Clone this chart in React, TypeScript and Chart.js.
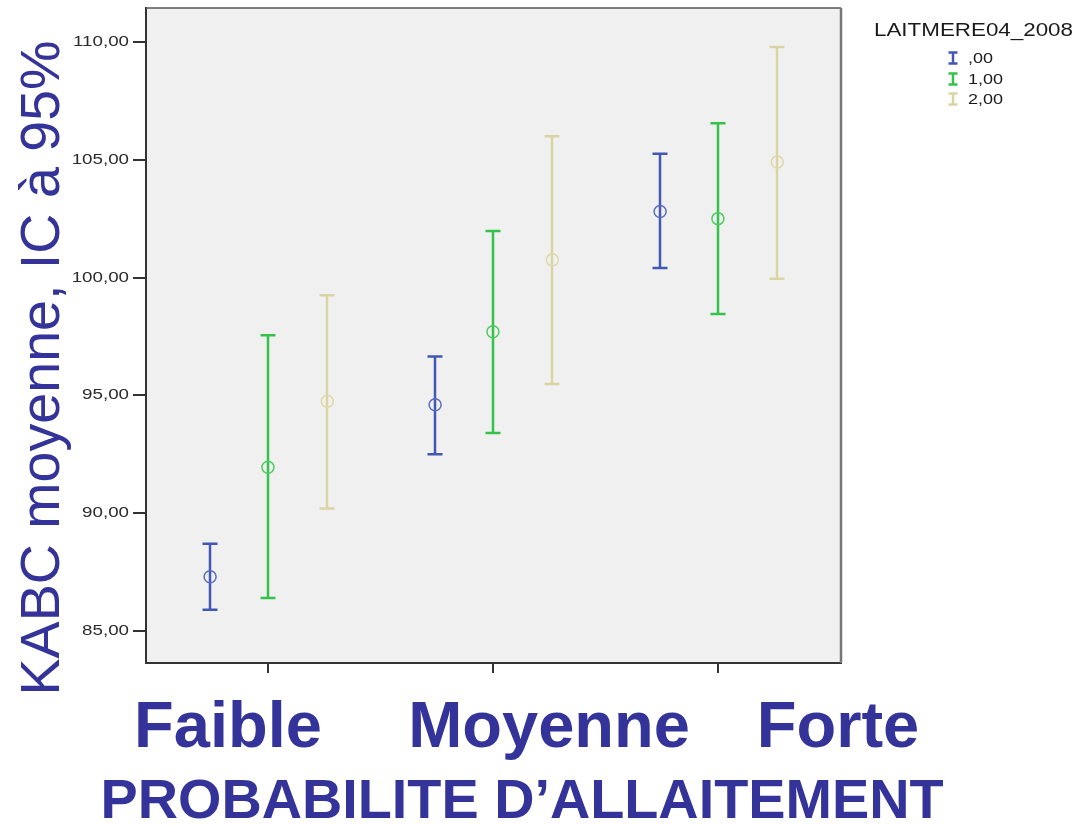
import { useEffect, useRef } from 'react';
import { Chart, registerables } from 'chart.js';

Chart.register(...registerables);

// ---- data ----
const categories = ['Faible', 'Moyenne', 'Forte'];
const seriesLabels = [',00', '1,00', '2,00'];
const legendTitle = 'LAITMERE04_2008';
const yTitle = 'KABC moyenne, IC à 95%';
const xTitle = 'PROBABILITE D\u2019ALLAITEMENT';
const yTickValues = [85, 90, 95, 100, 105, 110];

const mean0 = [87.3, 94.6, 102.8];
const low0 = [85.9, 92.5, 100.4];
const high0 = [88.7, 96.65, 105.25];

const mean1 = [91.95, 97.7, 102.5];
const low1 = [86.4, 93.4, 98.45];
const high1 = [97.55, 101.98, 106.55];

const mean2 = [94.75, 100.75, 104.9];
const low2 = [90.2, 95.48, 99.95];
const high2 = [99.25, 106.0, 109.78];

const means = [mean0, mean1, mean2];
const lows = [low0, low1, low2];
const highs = [high0, high1, high2];

// ---- styling / layout ----
const colors = ['#4257b2', '#35c24a', '#d9d5a2'];
const pointColors = ['#5a6cc0', '#4ccb5e', '#ddd9a8'];
const offsets = [-0.257, 0, 0.264];
const textBlue = '#333399';
const FONT = '"Liberation Sans", Arial, sans-serif';
const W = 1082;
const H = 825;

const customPlugin = {
  id: 'spssLike',
  beforeDraw(chart: any) {
    const { ctx, chartArea: a } = chart;
    ctx.save();
    ctx.fillStyle = '#f0f0f0';
    ctx.fillRect(a.left, a.top, a.right - a.left, a.bottom - a.top);
    ctx.restore();
  },
  beforeDatasetsDraw(chart: any) {
    const { ctx } = chart;
    const xs = chart.scales.x;
    const ys = chart.scales.y;
    ctx.save();
    for (let s = 0; s < 3; s++) {
      ctx.strokeStyle = colors[s];
      ctx.lineWidth = 2.5;
      for (let i = 0; i < categories.length; i++) {
        const px = Math.round(xs.getPixelForValue(i + offsets[s]));
        const pl = ys.getPixelForValue(lows[s][i]);
        const ph = ys.getPixelForValue(highs[s][i]);
        ctx.beginPath();
        ctx.moveTo(px, ph);
        ctx.lineTo(px, pl);
        ctx.moveTo(px - 7.5, ph);
        ctx.lineTo(px + 7.5, ph);
        ctx.moveTo(px - 7.5, pl);
        ctx.lineTo(px + 7.5, pl);
        ctx.stroke();
      }
    }
    ctx.restore();
  },
  afterDraw(chart: any) {
    const { ctx, chartArea: a } = chart;
    const ys = chart.scales.y;
    ctx.save();
    // frame top/right
    ctx.strokeStyle = '#555';
    ctx.lineWidth = 1.5;
    ctx.beginPath();
    ctx.moveTo(a.left, a.top);
    ctx.lineTo(a.right, a.top);
    ctx.stroke();
    ctx.strokeStyle = '#777';
    ctx.lineWidth = 2.5;
    ctx.beginPath();
    ctx.moveTo(a.right, a.top);
    ctx.lineTo(a.right, a.bottom);
    ctx.stroke();

    // y tick labels (horizontally stretched like original)
    ctx.fillStyle = '#2a2a2a';
    ctx.font = `15px ${FONT}`;
    ctx.textAlign = 'right';
    ctx.textBaseline = 'middle';
    for (const v of yTickValues) {
      const py = ys.getPixelForValue(v);
      const label = v.toFixed(2).replace('.', ',');
      ctx.save();
      ctx.translate(129, py);
      ctx.scale(1.25, 1);
      ctx.fillText(label, 0, 0);
      ctx.restore();
    }

    // y title
    ctx.save();
    ctx.translate(59, 368);
    ctx.rotate(-Math.PI / 2);
    ctx.fillStyle = textBlue;
    ctx.font = `56px ${FONT}`;
    ctx.textAlign = 'center';
    ctx.textBaseline = 'alphabetic';
    ctx.fillText(yTitle, 0, 0, 655);
    ctx.restore();

    // category labels
    const catCenters = [228, 549, 838];
    ctx.fillStyle = textBlue;
    ctx.font = `bold 65px ${FONT}`;
    ctx.textAlign = 'center';
    ctx.textBaseline = 'alphabetic';
    categories.forEach((c, i) => {
      ctx.fillText(c, catCenters[i], 747);
    });

    // x title
    ctx.font = `bold 56px ${FONT}`;
    ctx.fillText(xTitle, 522, 818, 843);

    // legend
    ctx.fillStyle = '#1a1a1a';
    ctx.textAlign = 'left';
    ctx.textBaseline = 'alphabetic';
    ctx.font = `18px ${FONT}`;
    const tw = ctx.measureText(legendTitle).width;
    ctx.save();
    ctx.translate(874, 36);
    ctx.scale(199 / tw, 1);
    ctx.fillText(legendTitle, 0, 0);
    ctx.restore();

    const rowY = [58, 79, 99];
    ctx.font = `15px ${FONT}`;
    ctx.textBaseline = 'middle';
    seriesLabels.forEach((lab, s) => {
      const cy = rowY[s];
      ctx.strokeStyle = colors[s];
      ctx.lineWidth = 2.5;
      ctx.beginPath();
      ctx.moveTo(953, cy - 5.5);
      ctx.lineTo(953, cy + 5.5);
      ctx.moveTo(948.5, cy - 5.5);
      ctx.lineTo(957.5, cy - 5.5);
      ctx.moveTo(948.5, cy + 5.5);
      ctx.lineTo(957.5, cy + 5.5);
      ctx.stroke();
      ctx.fillStyle = '#1a1a1a';
      ctx.save();
      ctx.translate(968, cy + 1);
      ctx.scale(1.2, 1);
      ctx.fillText(lab, 0, 0);
      ctx.restore();
    });
    ctx.restore();
  },
};

export default function App() {
  const ref = useRef<HTMLCanvasElement | null>(null);
  useEffect(() => {
    if (!ref.current) return;
    const chart = new Chart(ref.current, {
      type: 'scatter',
      data: {
        datasets: seriesLabels.map((lab, s) => ({
          label: lab,
          data: categories.map((_, i) => ({ x: i + offsets[s], y: means[s][i] })),
          pointStyle: 'circle',
          pointRadius: 6,
          pointBorderWidth: 1.5,
          pointBackgroundColor: 'rgba(0,0,0,0)',
          pointBorderColor: pointColors[s],
          showLine: false,
        })),
      },
      options: {
        responsive: false,
        animation: false,
        layout: { padding: { left: 0, top: 8, right: 241, bottom: 0 } },
        plugins: {
          legend: { display: false },
          tooltip: { enabled: false },
          title: { display: false },
        },
        scales: {
          x: {
            type: 'linear',
            min: -0.542,
            max: 2.547,
            afterBuildTicks: (s: any) => {
              s.ticks = categories.map((_, i) => ({ value: i }));
            },
            afterFit: (s: any) => {
              s.height = 162;
            },
            ticks: { display: false },
            grid: {
              drawOnChartArea: false,
              drawTicks: true,
              tickLength: 10,
              color: '#333',
              lineWidth: 2,
            },
            border: { display: true, color: '#333', width: 2 },
          },
          y: {
            type: 'linear',
            min: 83.64,
            max: 111.44,
            afterBuildTicks: (s: any) => {
              s.ticks = yTickValues.map((v) => ({ value: v }));
            },
            afterFit: (s: any) => {
              s.width = 146;
            },
            ticks: { display: false },
            grid: {
              drawOnChartArea: false,
              drawTicks: true,
              tickLength: 13,
              color: '#333',
              lineWidth: 2,
            },
            border: { display: true, color: '#333', width: 2 },
          },
        },
      },
      plugins: [customPlugin],
    } as any);
    return () => chart.destroy();
  }, []);
  return (
    <div style={{ position: 'absolute', left: 0, top: 0, width: W, height: H, background: '#fff' }}>
      <canvas ref={ref} width={W} height={H} style={{ width: W, height: H }} />
    </div>
  );
}
